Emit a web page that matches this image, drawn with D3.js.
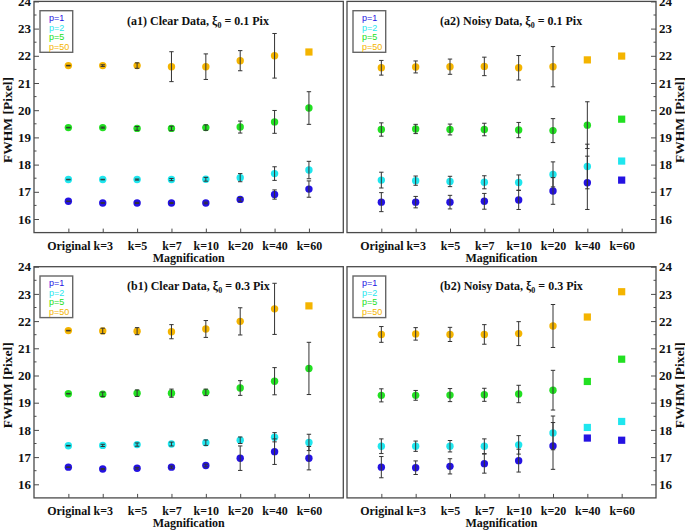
<!DOCTYPE html>
<html><head><meta charset="utf-8">
<script src="https://cdn.jsdelivr.net/npm/d3@7"></script>
<style>body{margin:0;background:#fff}svg{display:block}</style>
</head><body>
<svg id="chart" width="685" height="530"></svg>
<script>
const categories = ["Original","k=3","k=5","k=7","k=10","k=20","k=40","k=60"];
const seriesNames = ["p=1","p=2","p=5","p=50"];
const seriesColors = ["#2412e2","#1fe6ee","#22e022","#f4b400"];
const yTicks = [16,17,18,19,20,21,22,23,24];

// values per panel: rows = p=1, p=2, p=5, p=50 ; errors null => square marker, no bar
const a1Values = [
  [16.65,16.59,16.59,16.59,16.59,16.72,16.90,17.10],
  [17.45,17.45,17.45,17.45,17.46,17.52,17.67,17.80],
  [19.36,19.36,19.33,19.33,19.36,19.38,19.57,20.08],
  [21.64,21.64,21.64,21.60,21.60,21.82,22.00,22.14]];
const a1Errors = [
  [0.01,0.01,0.02,0.02,0.03,0.07,0.17,0.30],
  [0.01,0.01,0.02,0.04,0.07,0.15,0.25,0.32],
  [0.01,0.02,0.07,0.08,0.10,0.22,0.42,0.60],
  [0.01,0.03,0.10,0.55,0.47,0.37,0.82,null]];
const a2Values = [
  [16.62,16.62,16.62,16.65,16.70,17.03,17.33,17.43],
  [17.43,17.41,17.38,17.35,17.34,17.64,17.93,18.13],
  [19.29,19.31,19.29,19.29,19.27,19.25,19.45,19.67],
  [21.56,21.59,21.60,21.61,21.56,21.60,21.85,21.99]];
const a2Errors = [
  [0.35,0.21,0.25,0.29,0.35,0.49,0.98,null],
  [0.29,0.17,0.19,0.24,0.28,0.46,0.82,null],
  [0.245,0.17,0.20,0.23,0.28,0.44,0.86,null],
  [0.27,0.22,0.28,0.34,0.45,0.74,null,null]];
const b1Values = [
  [16.63,16.56,16.59,16.63,16.69,16.96,17.20,16.96],
  [17.42,17.43,17.46,17.48,17.53,17.62,17.73,17.54],
  [19.33,19.31,19.35,19.35,19.38,19.54,19.79,20.26],
  [21.65,21.64,21.63,21.61,21.71,21.99,22.45,22.56]];
const b1Errors = [
  [0.01,0.02,0.03,0.04,0.05,0.45,0.47,0.43],
  [0.01,0.04,0.06,0.07,0.10,0.12,0.17,0.30],
  [0.01,0.08,0.12,0.15,0.12,0.27,0.50,0.96],
  [0.01,0.10,0.13,0.26,0.31,0.50,0.94,null]];
const b2Values = [
  [16.63,16.61,16.66,16.76,16.87,17.41,17.70,17.62],
  [17.40,17.40,17.40,17.40,17.45,17.89,18.09,18.31],
  [19.27,19.27,19.28,19.29,19.32,19.46,19.78,20.60],
  [21.51,21.53,21.51,21.51,21.54,21.82,22.15,23.08]];
const b2Errors = [
  [0.39,0.25,0.28,0.35,0.42,0.86,null,null],
  [0.27,0.19,0.21,0.27,0.34,0.62,null,null],
  [0.24,0.18,0.24,0.24,0.32,0.73,null,null],
  [0.29,0.23,0.26,0.36,0.44,0.79,null,null]];

const panels = [
  {tag:"(a1) Clear Data, ", xi:"0.1", vals:a1Values, errs:a1Errors, x0:34, x1:343.3, y0:1.4, y1:232.6, side:"left"},
  {tag:"(a2) Noisy Data, ", xi:"0.1", vals:a2Values, errs:a2Errors, x0:347, x1:656, y0:1.4, y1:232.6, side:"right"},
  {tag:"(b1) Clear Data, ", xi:"0.3", vals:b1Values, errs:b1Errors, x0:34, x1:343.3, y0:266.7, y1:497.9, side:"left"},
  {tag:"(b2) Noisy Data, ", xi:"0.3", vals:b2Values, errs:b2Errors, x0:347, x1:656, y0:266.7, y1:497.9, side:"right"}
];

const svg = d3.select("#chart");
const serif = "'Liberation Serif','Times New Roman',serif";
const frameColor = "#4a4a4a";

panels.forEach(p => {
  const g = svg.append("g");
  const x = d3.scalePoint().domain(categories).range([p.x0, p.x1]).padding(1);
  const y = d3.scaleLinear().domain([15.5, 24]).range([p.y1, p.y0]);

  // frame
  g.append("rect").attr("x", p.x0).attr("y", p.y0).attr("width", p.x1 - p.x0).attr("height", p.y1 - p.y0)
    .attr("fill", "none").attr("stroke", frameColor).attr("stroke-width", 1.3);

  // y axis (ticks inside)
  const isLeft = p.side === "left";
  const axisX = isLeft ? p.x0 : p.x1;
  const yAxis = (isLeft ? d3.axisLeft(y) : d3.axisRight(y)).tickValues(yTicks).tickSize(-5).tickPadding(8).tickFormat(d3.format("d"));
  const ya = g.append("g").attr("transform", `translate(${axisX},0)`).call(yAxis);
  ya.select(".domain").remove();
  ya.selectAll(".tick line").attr("stroke", frameColor);
  ya.selectAll(".tick text").attr("font-family", serif).attr("font-weight", "bold").attr("font-size", 13).attr("fill", "#111")
    .attr("x", isLeft ? -3 : 3);
  const minor = d3.range(16.5, 24, 1);
  g.selectAll(".minor").data(minor).join("line")
    .attr("x1", axisX).attr("x2", axisX + (isLeft ? 2.5 : -2.5))
    .attr("y1", d => y(d)).attr("y2", d => y(d)).attr("stroke", frameColor);

  // x axis
  const xAxis = d3.axisBottom(x).tickSize(-4).tickPadding(6);
  const xa = g.append("g").attr("transform", `translate(0,${p.y1})`).call(xAxis);
  xa.select(".domain").remove();
  xa.selectAll(".tick line").attr("stroke", frameColor);
  xa.selectAll(".tick text").attr("font-family", serif).attr("font-weight", "bold").attr("font-size", 12).attr("fill", "#111")
    .attr("y", 8.5);

  g.append("text").attr("x", (p.x0 + p.x1) / 2).attr("y", p.y1 + 29).attr("text-anchor", "middle")
    .attr("font-family", serif).attr("font-weight", "bold").attr("font-size", 12).attr("fill", "#111").text("Magnification");

  // y title
  const tx = isLeft ? 11.5 : 684;
  const ty = (p.y0 + p.y1) / 2 + 3;
  g.append("text").attr("transform", `translate(${tx},${ty}) rotate(-90)`).attr("text-anchor", "middle")
    .attr("font-family", serif).attr("font-weight", "bold").attr("font-size", 13.5).attr("fill", "#111").text("FWHM [Pixel]");

  // title
  const t = g.append("text").attr("x", p.x0 + 93).attr("y", p.y0 + 23.3)
    .attr("font-family", serif).attr("font-weight", "bold").attr("font-size", 12).attr("fill", "#111");
  t.append("tspan").text(p.tag + "\u03BE");
  t.append("tspan").attr("dy", 3).attr("font-size", 8).text("0");
  t.append("tspan").attr("dy", -3).text(" = " + p.xi + " Pix");

  // markers
  p.vals.forEach((row, si) => {
    row.forEach((v, ci) => {
      const cx = x(categories[ci]), cy = y(v);
      if (p.errs[si][ci] === null) {
        g.append("rect").attr("x", cx - 3.6).attr("y", cy - 3.6).attr("width", 7.2).attr("height", 7.2)
          .attr("fill", seriesColors[si]);
      } else {
        g.append("circle").attr("cx", cx).attr("cy", cy).attr("r", 3.7).attr("fill", seriesColors[si]);
      }
    });
  });
  // error bars (drawn on top)
  p.vals.forEach((row, si) => {
    row.forEach((v, ci) => {
      const e = p.errs[si][ci];
      if (e === null) return;
      const cx = x(categories[ci]);
      const top = y(v + e), bot = y(v - e);
      g.append("line").attr("x1", cx).attr("x2", cx).attr("y1", top).attr("y2", bot).attr("stroke", "#333").attr("stroke-width", 1);
      [top, bot].forEach(yy => g.append("line").attr("x1", cx - 2.2).attr("x2", cx + 2.2).attr("y1", yy).attr("y2", yy)
        .attr("stroke", "#333").attr("stroke-width", 1));
    });
  });

  // legend
  const lx = p.x0 + 6, ly = p.y0 + 9.3;
  g.append("rect").attr("x", lx).attr("y", ly).attr("width", 32.7).attr("height", 41.6)
    .attr("fill", "#fff").attr("stroke", "#666").attr("stroke-width", 1.4);
  seriesNames.forEach((s, i) => {
    g.append("text").attr("x", lx + 9).attr("y", ly + 10.2 + i * 9.6)
      .attr("font-family", "'Liberation Sans',Arial,sans-serif").attr("font-size", 9)
      .attr("fill", seriesColors[i]).text(s);
  });
});
</script>
</body></html>
